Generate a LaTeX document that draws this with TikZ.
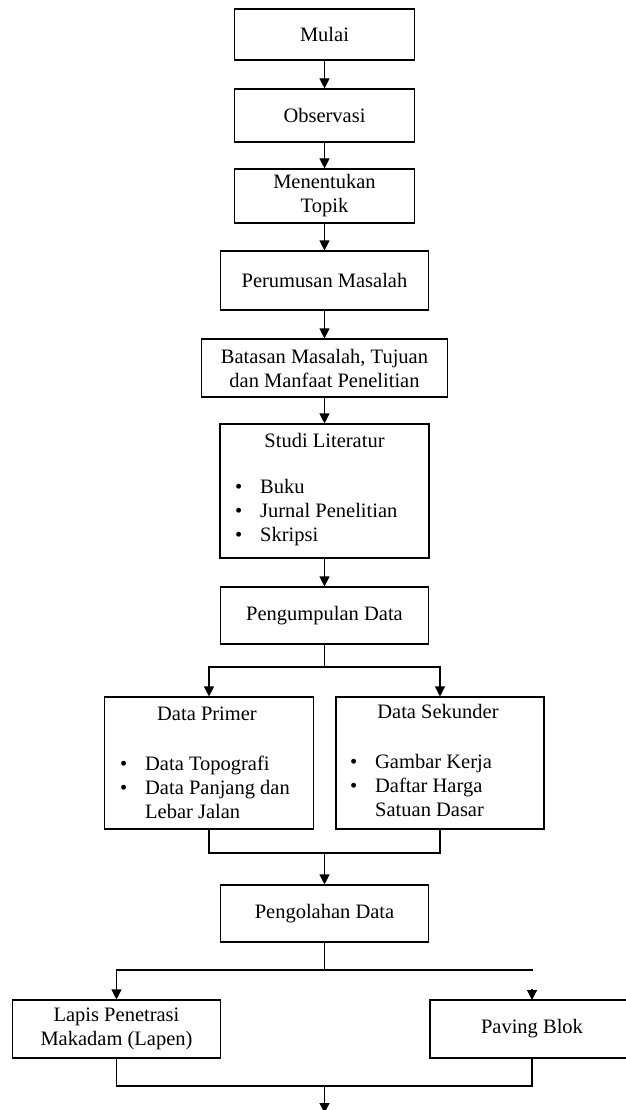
\documentclass[tikz,border=0pt]{standalone}
\usepackage{fontspec}
\setmainfont{Liberation Serif}
\usetikzlibrary{arrows.meta, positioning}

\newcommand{\butir}[1]{\makebox[25pt][l]{\textbullet}#1}

\begin{document}
\begin{tikzpicture}[x=1pt, y=-1pt,
    box/.style={draw=black, rectangle, line width=1.1pt, align=center, inner sep=2pt},
    isi/.style={inner sep=0pt, align=left},
    arrow/.style={-{Triangle[width=10pt,length=10pt]}, line width=1.1pt},
    garis/.style={line width=1.1pt},
    font=\fontsize{20.5}{24}\selectfont
]
\useasboundingbox (0,0) rectangle (625,1110);
\node[box, minimum width=180pt, minimum height=51pt] (mulai) at (324.5,34.5) {Mulai};
\node[box, minimum width=180pt, minimum height=53pt] (obs) at (324.5,115.5) {Observasi};
\node[box, minimum width=180pt, minimum height=54pt] (topik) at (324.5,196) {Menentukan\\Topik};
\node[box, minimum width=208pt, minimum height=59pt] (rumus) at (324.5,280.5) {Perumusan Masalah};
\node[box, minimum width=246pt, minimum height=58pt] (batas) at (324.5,368) {Batasan Masalah, Tujuan\\dan Manfaat Penelitian};
\node[box, minimum width=209pt, minimum height=134pt] (studi) at (324.5,491) {};
\node[isi] (studiT) at (324.5,440) {Studi Literatur};
\node[isi, anchor=west] (studiL) at (235,513) {\butir{Buku}\\\butir{Jurnal Penelitian}\\\butir{Skripsi}};
\node[box, minimum width=208pt, minimum height=57pt] (kumpul) at (324.5,615.5) {Pengumpulan Data};
\node[box, minimum width=209pt, minimum height=132pt] (primer) at (209,763) {};
\node[isi] (primerT) at (207,714) {Data Primer};
\node[isi, anchor=west] (primerL) at (120,787) {\butir{Data Topografi}\\\butir{Data Panjang dan}\\\hspace*{25pt}Lebar Jalan};
\node[box, minimum width=208pt, minimum height=132pt] (sekunder) at (440,763) {};
\node[isi] (sekunderT) at (438,711) {Data Sekunder};
\node[isi, anchor=west] (sekunderL) at (350,785) {\butir{Gambar Kerja}\\\butir{Daftar Harga}\\\hspace*{25pt}Satuan Dasar};
\node[box, minimum width=208pt, minimum height=57pt] (olah) at (324.5,913.5) {Pengolahan Data};
\node[box, minimum width=208pt, minimum height=58pt] (lapen) at (116.5,1029) {Lapis Penetrasi\\Makadam (Lapen)};
\node[box, minimum width=210pt, minimum height=58pt] (paving) at (535,1029) {\hspace*{-6pt}Paving Blok};
% titik bantu
\coordinate (cabang1) at (324.5,667);
\coordinate (gabung1) at (324.5,853);
\coordinate (cabang2) at (324.5,970);
\coordinate (ujung) at (533,970);
\coordinate (ujungP) at (532,989);
\coordinate (pavingN) at (532,1000);
\coordinate (gabung2) at (324.5,1086);
\coordinate (akhir) at (324.5,1113);
% alur
\draw[arrow] (mulai) -- (obs);
\draw[arrow] (obs) -- (topik);
\draw[arrow] (topik) -- (rumus);
\draw[arrow] (rumus) -- (batas);
\draw[arrow] (batas) -- (studi);
\draw[arrow] (studi) -- (kumpul);
\draw[garis] (kumpul) -- (cabang1);
\draw[arrow] (cabang1) -| (primer);
\draw[arrow] (cabang1) -| (sekunder);
\draw[garis] (primer) |- (gabung1) -| (sekunder);
\draw[arrow] (gabung1) -- (olah);
\draw[garis] (olah) -- (cabang2);
\draw[arrow] (cabang2) -| (lapen);
\draw[garis] (cabang2) -- (ujung);
\draw[arrow] (ujungP) -- (pavingN);
\draw[garis] (lapen) |- (gabung2) -| (pavingN |- paving.south);
\draw[arrow] (gabung2) -- (akhir);
\end{tikzpicture}
\end{document}
